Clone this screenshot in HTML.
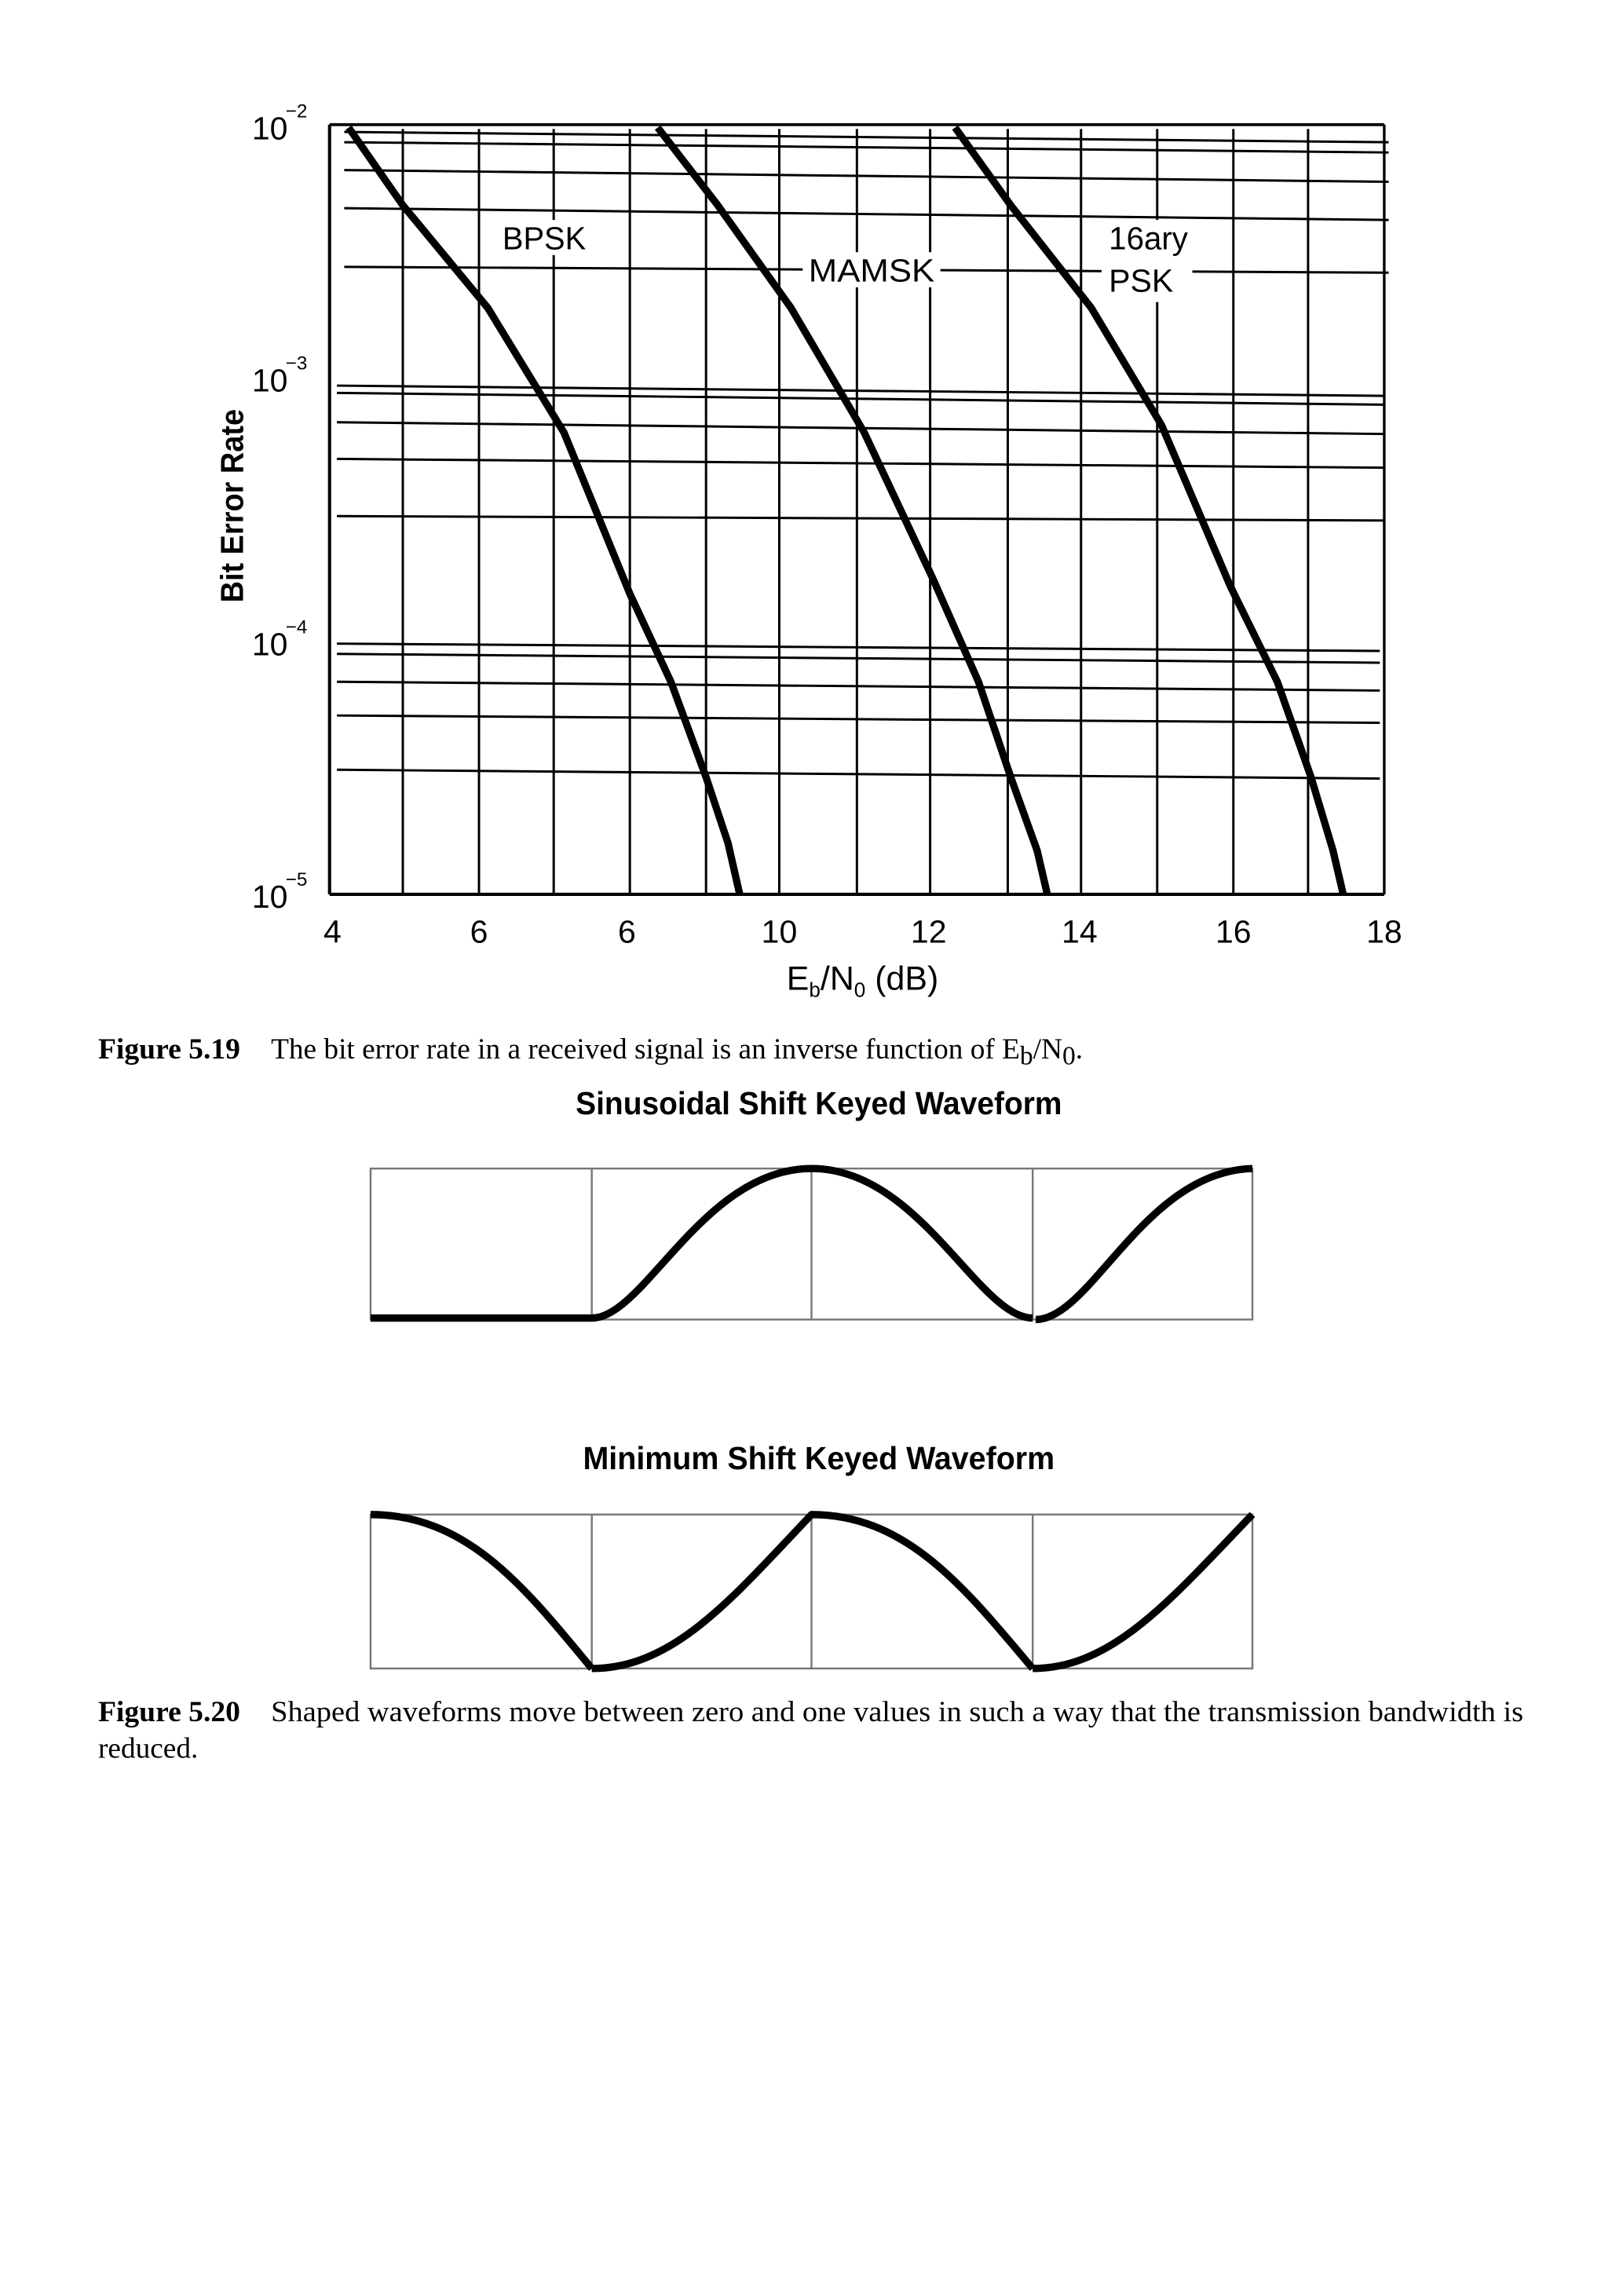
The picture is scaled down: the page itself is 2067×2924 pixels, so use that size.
<!DOCTYPE html>
<html><head><meta charset="utf-8"><style>
html,body{margin:0;padding:0;background:#fff;}
svg{display:block;}
</style></head><body>
<svg width="2067" height="2924" viewBox="0 0 1108 1566" preserveAspectRatio="none" xmlns="http://www.w3.org/2000/svg">
<rect width="1108" height="1566" fill="#fff"/>
<g stroke="#000" stroke-width="1.6" fill="none">
<line x1="225" y1="85" x2="945" y2="85" stroke-width="2"/>
<line x1="225" y1="85" x2="225" y2="610" stroke-width="2.2"/>
<line x1="225" y1="610" x2="945" y2="610" stroke-width="2.2"/>
<line x1="945" y1="85" x2="945" y2="610" stroke-width="1.8"/>
<line x1="275" y1="88" x2="275" y2="610"/><line x1="327" y1="88" x2="327" y2="610"/>
<line x1="378" y1="88" x2="378" y2="610"/><line x1="430" y1="88" x2="430" y2="610"/>
<line x1="482" y1="88" x2="482" y2="610"/><line x1="532" y1="88" x2="532" y2="610"/>
<line x1="585" y1="88" x2="585" y2="610"/><line x1="635" y1="88" x2="635" y2="610"/>
<line x1="688" y1="88" x2="688" y2="610"/><line x1="738" y1="88" x2="738" y2="610"/>
<line x1="790" y1="88" x2="790" y2="610"/><line x1="842" y1="88" x2="842" y2="610"/>
<line x1="893" y1="88" x2="893" y2="610"/>
<line x1="235" y1="90" x2="948" y2="97"/>
<line x1="235" y1="97" x2="948" y2="104"/>
<line x1="235" y1="116" x2="948" y2="124"/>
<line x1="235" y1="142" x2="948" y2="150"/>
<line x1="235" y1="182" x2="948" y2="186"/>
<line x1="230" y1="263" x2="945" y2="270"/>
<line x1="230" y1="268" x2="945" y2="276"/>
<line x1="230" y1="288" x2="945" y2="296"/>
<line x1="230" y1="313" x2="945" y2="319"/>
<line x1="230" y1="352" x2="945" y2="355"/>
<line x1="230" y1="439" x2="942" y2="444"/>
<line x1="230" y1="446" x2="942" y2="452"/>
<line x1="230" y1="465" x2="942" y2="471"/>
<line x1="230" y1="488" x2="942" y2="493"/>
<line x1="230" y1="525" x2="942" y2="531"/>
</g>
<rect x="548" y="172" width="94" height="24" fill="#fff"/>
<rect x="752" y="150" width="62" height="56" fill="#fff"/>
<rect x="340" y="150" width="64" height="24" fill="#fff"/>
<g stroke="#000" stroke-width="5" fill="none" stroke-linejoin="round">
<polyline points="238,87 275,140 333,210 385,295 430,405 458,465 482,530 497,575 505,610"/>
<polyline points="449,87 490,140 540,210 590,295 637,395 668,465 690,530 708,580 715,610"/>
<polyline points="652,87 690,140 745,210 793,290 840,400 872,465 895,530 910,580 917,610"/>
</g>
<g font-family="Liberation Sans, sans-serif" fill="#000">
<text x="343" y="170" font-size="22" textLength="57" lengthAdjust="spacingAndGlyphs">BPSK</text>
<text x="552" y="192" font-size="22" textLength="86" lengthAdjust="spacingAndGlyphs">MAMSK</text>
<text x="757" y="170" font-size="22" textLength="54" lengthAdjust="spacingAndGlyphs">16ary</text>
<text x="757" y="199" font-size="22" textLength="44" lengthAdjust="spacingAndGlyphs">PSK</text>
<g font-size="22" text-anchor="middle">
<text x="227" y="643">4</text><text x="327" y="643">6</text><text x="428" y="643">6</text>
<text x="532" y="643">10</text><text x="634" y="643">12</text><text x="737" y="643">14</text>
<text x="842" y="643">16</text><text x="945" y="643">18</text>
</g>
<g font-size="22">
<text x="172" y="95">10</text><text x="195" y="80" font-size="13">−2</text>
<text x="172" y="267">10</text><text x="195" y="252" font-size="13">−3</text>
<text x="172" y="447">10</text><text x="195" y="432" font-size="13">−4</text>
<text x="172" y="619">10</text><text x="195" y="604" font-size="13">−5</text>
</g>
<text transform="translate(166,345) rotate(-90)" font-size="22" font-weight="bold" text-anchor="middle" textLength="132" lengthAdjust="spacingAndGlyphs">Bit Error Rate</text>
<text x="537" y="675" font-size="23">E<tspan font-size="14" dy="5">b</tspan><tspan dy="-5">/N</tspan><tspan font-size="14" dy="5">0</tspan><tspan dy="-5"> (dB)</tspan></text>
<text x="393" y="760" font-size="22" font-weight="bold" textLength="332" lengthAdjust="spacingAndGlyphs">Sinusoidal Shift Keyed Waveform</text>
<text x="398" y="1002" font-size="22" font-weight="bold" textLength="322" lengthAdjust="spacingAndGlyphs">Minimum Shift Keyed Waveform</text>
</g>
<g font-family="Liberation Serif, serif" font-size="20" fill="#000">
<text x="67" y="722" font-weight="bold" textLength="97" lengthAdjust="spacingAndGlyphs">Figure 5.19</text>
<text x="185" y="722">The bit error rate in a received signal is an inverse function of E<tspan font-size="18" dy="4">b</tspan><tspan dy="-4">/N</tspan><tspan font-size="18" dy="4">0</tspan><tspan dy="-4">.</tspan></text>
<text x="67" y="1174" font-weight="bold" textLength="97" lengthAdjust="spacingAndGlyphs">Figure 5.20</text>
<text x="185" y="1174" textLength="855" lengthAdjust="spacingAndGlyphs">Shaped waveforms move between zero and one values in such a way that the transmission bandwidth is</text>
<text x="67" y="1199">reduced.</text>
</g>
<g stroke="#777" stroke-width="1.3" fill="none">
<rect x="253" y="797" width="602" height="103"/>
<line x1="404" y1="797" x2="404" y2="900"/><line x1="554" y1="797" x2="554" y2="900"/><line x1="705" y1="797" x2="705" y2="900"/>
<rect x="253" y="1033" width="602" height="105"/>
<line x1="404" y1="1033" x2="404" y2="1138"/><line x1="554" y1="1033" x2="554" y2="1138"/><line x1="705" y1="1033" x2="705" y2="1138"/>
</g>
<g stroke="#000" stroke-width="5" fill="none" stroke-linejoin="round">
<path d="M253,899 L404,899 C440,899 480,797 554,797 C628,797 668,899 705,899"/>
<path d="M707,900 C745,900 781,799 855,797"/>
<path d="M253,1033 C320,1033 360,1085 404,1138 M404,1138 C460,1138 500,1090 554,1033 C620,1033 660,1085 705,1138 M705,1138 C760,1138 800,1090 855,1033"/>
</g>
</svg>
</body></html>
